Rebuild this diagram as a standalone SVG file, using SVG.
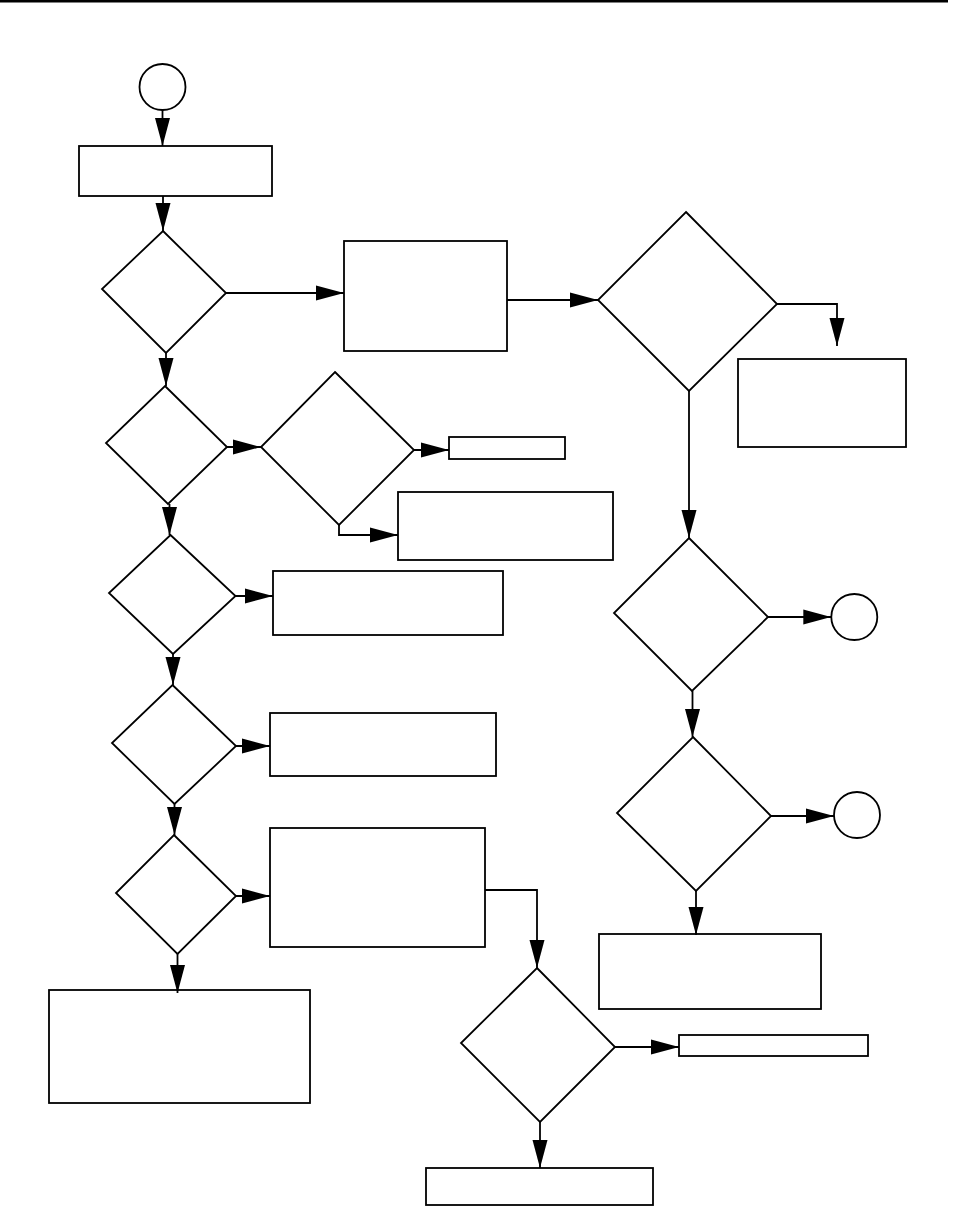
<svg xmlns="http://www.w3.org/2000/svg" width="965" height="1206" viewBox="0 0 965 1206">
<style>
.n{fill:#fff;stroke:#000;stroke-width:1.8}
.c{fill:none;stroke:#000;stroke-width:1.8}
</style>
<defs>
<marker id="ah" markerUnits="userSpaceOnUse" markerWidth="28" markerHeight="16" viewBox="0 0 28 16" refX="28" refY="8" orient="auto">
<path d="M0,0.5 L28,8 L0,15.5 z" fill="#000"/>
</marker>
</defs>
<rect x="0" y="0" width="948" height="2.5" fill="#000"/>
<g id="start"><circle class="n" cx="162.5" cy="87" r="23"/></g>
<g id="rectA"><rect class="n" x="79" y="146" width="193" height="50"/></g>
<g id="d1"><polygon class="n" points="163,231 226,293 166,353 102,289"/></g>
<g id="rectB"><rect class="n" x="344" y="241" width="163" height="110"/></g>
<g id="d2"><polygon class="n" points="686,212 777,304 689,391 598,300"/></g>
<g id="rectC"><rect class="n" x="738" y="359" width="168" height="88"/></g>
<g id="d3"><polygon class="n" points="689,538 768,617 692,691 614,613"/></g>
<g id="circle2"><circle class="n" cx="854.3" cy="617" r="23"/></g>
<g id="d4"><polygon class="n" points="693,737 771,816 696,891 617,813"/></g>
<g id="circle3"><circle class="n" cx="857" cy="815" r="23"/></g>
<g id="rectD"><rect class="n" x="599" y="934" width="222" height="75"/></g>
<g id="d5"><polygon class="n" points="165,386 227,447 168,504 106,443"/></g>
<g id="d6"><polygon class="n" points="335,372 414,450 339,525 261,447"/></g>
<g id="rectE"><rect class="n" x="449" y="437" width="116" height="22"/></g>
<g id="rectF"><rect class="n" x="398" y="492" width="215" height="68"/></g>
<g id="d7"><polygon class="n" points="170.5,535 235.5,596 173,654 109,593"/></g>
<g id="rectG"><rect class="n" x="273" y="571" width="230" height="64"/></g>
<g id="d8"><polygon class="n" points="172.5,685 236,746 174.5,804 112,743"/></g>
<g id="rectH"><rect class="n" x="270" y="713" width="226" height="63"/></g>
<g id="d9"><polygon class="n" points="174,835 236,896 177.5,954 116,893"/></g>
<g id="rectI"><rect class="n" x="270" y="828" width="215" height="119"/></g>
<g id="rectJ"><rect class="n" x="49" y="990" width="261" height="113"/></g>
<g id="d10"><polygon class="n" points="537,968 615,1047 540,1122 461,1043"/></g>
<g id="rectK"><rect class="n" x="679" y="1035" width="189" height="21"/></g>
<g id="rectL"><rect class="n" x="426" y="1168" width="227" height="37"/></g>
<g id="connectors">
<path class="c" marker-end="url(#ah)" d="M162.5,110 V146"/>
<path class="c" marker-end="url(#ah)" d="M163,196 V231"/>
<path class="c" marker-end="url(#ah)" d="M226,293 H344"/>
<path class="c" marker-end="url(#ah)" d="M507,300 H598"/>
<path class="c" marker-end="url(#ah)" d="M777,304 H837 V346"/>
<path class="c" marker-end="url(#ah)" d="M689,391 V538"/>
<path class="c" marker-end="url(#ah)" d="M768,617 H831.3"/>
<path class="c" marker-end="url(#ah)" d="M692.5,691 V737"/>
<path class="c" marker-end="url(#ah)" d="M771,816 H834"/>
<path class="c" marker-end="url(#ah)" d="M696,891 V935"/>
<path class="c" marker-end="url(#ah)" d="M166,353 V386"/>
<path class="c" marker-end="url(#ah)" d="M227,447 H261"/>
<path class="c" marker-end="url(#ah)" d="M414,450 H449"/>
<path class="c" marker-end="url(#ah)" d="M339,525 V535 H398"/>
<path class="c" marker-end="url(#ah)" d="M169.5,504 V535"/>
<path class="c" marker-end="url(#ah)" d="M235.5,596 H273"/>
<path class="c" marker-end="url(#ah)" d="M173,654 V685"/>
<path class="c" marker-end="url(#ah)" d="M236,746 H270"/>
<path class="c" marker-end="url(#ah)" d="M174.5,804 V835"/>
<path class="c" marker-end="url(#ah)" d="M236,896 H270"/>
<path class="c" marker-end="url(#ah)" d="M177.5,954 V993"/>
<path class="c" marker-end="url(#ah)" d="M485,890 H537 V968"/>
<path class="c" marker-end="url(#ah)" d="M615,1047 H679"/>
<path class="c" marker-end="url(#ah)" d="M540,1122 V1168"/>
</g>
</svg>
